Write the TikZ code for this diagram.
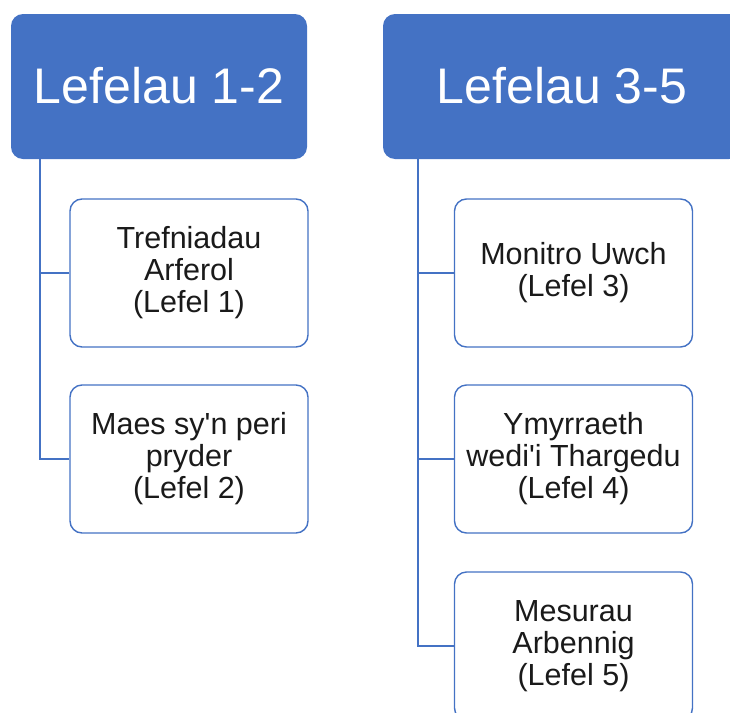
\documentclass[tikz,border=0pt]{standalone}
\usepackage{fontspec}
\setmainfont{Liberation Sans}[Ligatures=TeXOff]
\definecolor{hdrblue}{HTML}{4472C4}
\definecolor{txtgray}{HTML}{1A1A1A}
\begin{document}
\begin{tikzpicture}[x=1pt,y=-1pt,
  header/.style={draw=none,fill=hdrblue,rounded corners=12pt,minimum height=145pt,
    text=white,font=\fontsize{50}{56}\selectfont,inner sep=0pt},
  child/.style={draw=hdrblue,line width=1.4pt,fill=white,rounded corners=12pt,
    minimum width=238pt,minimum height=148pt,align=center,text=txtgray,
    font=\fontsize{30.5}{32}\selectfont,inner sep=0pt},
  conn/.style={draw=hdrblue,line width=1.4pt}]
\clip (0,0) rectangle (730,712);
\node[header,minimum width=296pt] (h1) at (159,86.5) {\raisebox{2pt}{Lefelau 1-2}};
\node[header,minimum width=358pt] (h2) at (562,86.5) {\raisebox{2pt}{Lefelau 3-5}};
\coordinate (l1) at (40,159);
\coordinate (l2) at (418,159);
\node[child] (b1) at (189,273) {Trefniadau\\Arferol\\(Lefel 1)};
\node[child] (b2) at (189,459) {Maes sy'n peri\\pryder\\(Lefel 2)};
\node[child] (b3) at (573.5,273) {Monitro Uwch\\(Lefel 3)};
\node[child] (b4) at (573.5,459) {Ymyrraeth\\wedi'i Thargedu\\(Lefel 4)};
\node[child] (b5) at (573.5,646) {Mesurau\\Arbennig\\(Lefel 5)};
\draw[conn] (l1) |- (b2.west);
\draw[conn] (b1.west) -- (b1.west -| l1);
\draw[conn] (l2) |- (b5.west);
\draw[conn] (b3.west) -- (b3.west -| l2);
\draw[conn] (b4.west) -- (b4.west -| l2);
\end{tikzpicture}
\end{document}
